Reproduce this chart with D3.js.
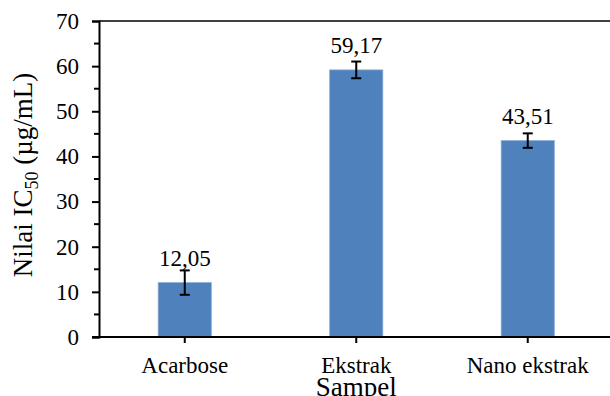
<!DOCTYPE html>
<html><head><meta charset="utf-8">
<script src="https://cdn.jsdelivr.net/npm/d3@7"></script>
<style>body{margin:0;background:#fff;overflow:hidden}svg{display:block}text{font-family:"Liberation Serif","Times New Roman",serif;fill:#000}</style>
</head><body>
<script>
const categories = ["Acarbose", "Ekstrak", "Nano ekstrak"];
const values = [12.05, 59.17, 43.51];
const errors = [2.7, 1.85, 1.6];
const valueLabels = ["12,05", "59,17", "43,51"];
const yTicks = [0, 10, 20, 30, 40, 50, 60, 70];

const W = 610, H = 396;
const mLeft = 99, mTop = 21, mBottom = 337, mRight = 613.5;
const svg = d3.select("body").append("svg").attr("width", W).attr("height", H);

const x = d3.scaleBand().domain(categories).range([mLeft, mRight]).paddingInner(0.69).paddingOuter(0.345);
const y = d3.scaleLinear().domain([0, 70]).range([mBottom, mTop]);

// bars
svg.selectAll("rect.bar").data(values).join("rect")
  .attr("class", "bar")
  .attr("x", (d, i) => x(categories[i]))
  .attr("width", x.bandwidth())
  .attr("y", d => y(d))
  .attr("height", d => y(0) - y(d))
  .attr("fill", "#4F81BD")
  .attr("stroke", "#8EADD6").attr("stroke-width", 0.8);

// error bars
const eg = svg.append("g").attr("stroke", "#000").attr("stroke-width", 2);
values.forEach((v, i) => {
  const cx = x(categories[i]) + x.bandwidth() / 2;
  const y1 = y(v + errors[i]), y2 = y(v - errors[i]);
  eg.append("line").attr("x1", cx).attr("x2", cx).attr("y1", y1).attr("y2", y2);
  eg.append("line").attr("x1", cx - 5).attr("x2", cx + 5).attr("y1", y1).attr("y2", y1);
  eg.append("line").attr("x1", cx - 5).attr("x2", cx + 5).attr("y1", y2).attr("y2", y2);
});

// value labels
svg.selectAll("text.vl").data(values).join("text")
  .attr("class", "vl")
  .attr("x", (d, i) => x(categories[i]) + x.bandwidth() / 2)
  .attr("y", d => y(d) - 17)
  .attr("text-anchor", "middle")
  .attr("font-size", 23)
  .text((d, i) => valueLabels[i]);

// top border
svg.append("line").attr("x1", mLeft).attr("x2", W).attr("y1", mTop).attr("y2", mTop)
  .attr("stroke", "#000").attr("stroke-width", 1.5);

// y axis
const ya = svg.append("g").attr("transform", `translate(${mLeft},0)`)
  .call(d3.axisLeft(y).tickValues(yTicks).tickSize(7).tickPadding(13).tickFormat(d3.format("d")));
ya.select(".domain").attr("stroke", "#000").attr("stroke-width", 2);
ya.selectAll(".tick line").attr("stroke", "#000").attr("stroke-width", 2);
ya.selectAll(".tick text").attr("font-size", 23).attr("font-family", "Liberation Serif").attr("fill", "#000");
const minor = d3.range(5, 70, 10);
svg.append("g").selectAll("line").data(minor).join("line")
  .attr("x1", mLeft - 5).attr("x2", mLeft).attr("y1", d => y(d)).attr("y2", d => y(d))
  .attr("stroke", "#000").attr("stroke-width", 2);

// x axis
const xa = svg.append("g").attr("transform", `translate(0,${mBottom})`)
  .call(d3.axisBottom(x).tickSize(6).tickPadding(14));
xa.select(".domain").remove();
svg.append("line").attr("x1", mLeft - 7).attr("x2", W).attr("y1", mBottom).attr("y2", mBottom)
  .attr("stroke", "#000").attr("stroke-width", 2);
xa.selectAll(".tick line").attr("stroke", "#000").attr("stroke-width", 2);
xa.selectAll(".tick text").attr("font-size", 23).attr("font-family", "Liberation Serif").attr("fill", "#000");

// x title
svg.append("text").attr("x", x("Ekstrak") + x.bandwidth() / 2).attr("y", 396)
  .attr("text-anchor", "middle").attr("font-size", 27).text("Sampel");

// y title
const yt = svg.append("text")
  .attr("transform", `translate(32,175) rotate(-90)`)
  .attr("text-anchor", "middle").attr("font-size", 27);
yt.append("tspan").text("Nilai IC");
yt.append("tspan").attr("font-size", 18).attr("dy", 6).text("50");
yt.append("tspan").attr("dy", -6).text(" (µg/mL)");
</script>
</body></html>
